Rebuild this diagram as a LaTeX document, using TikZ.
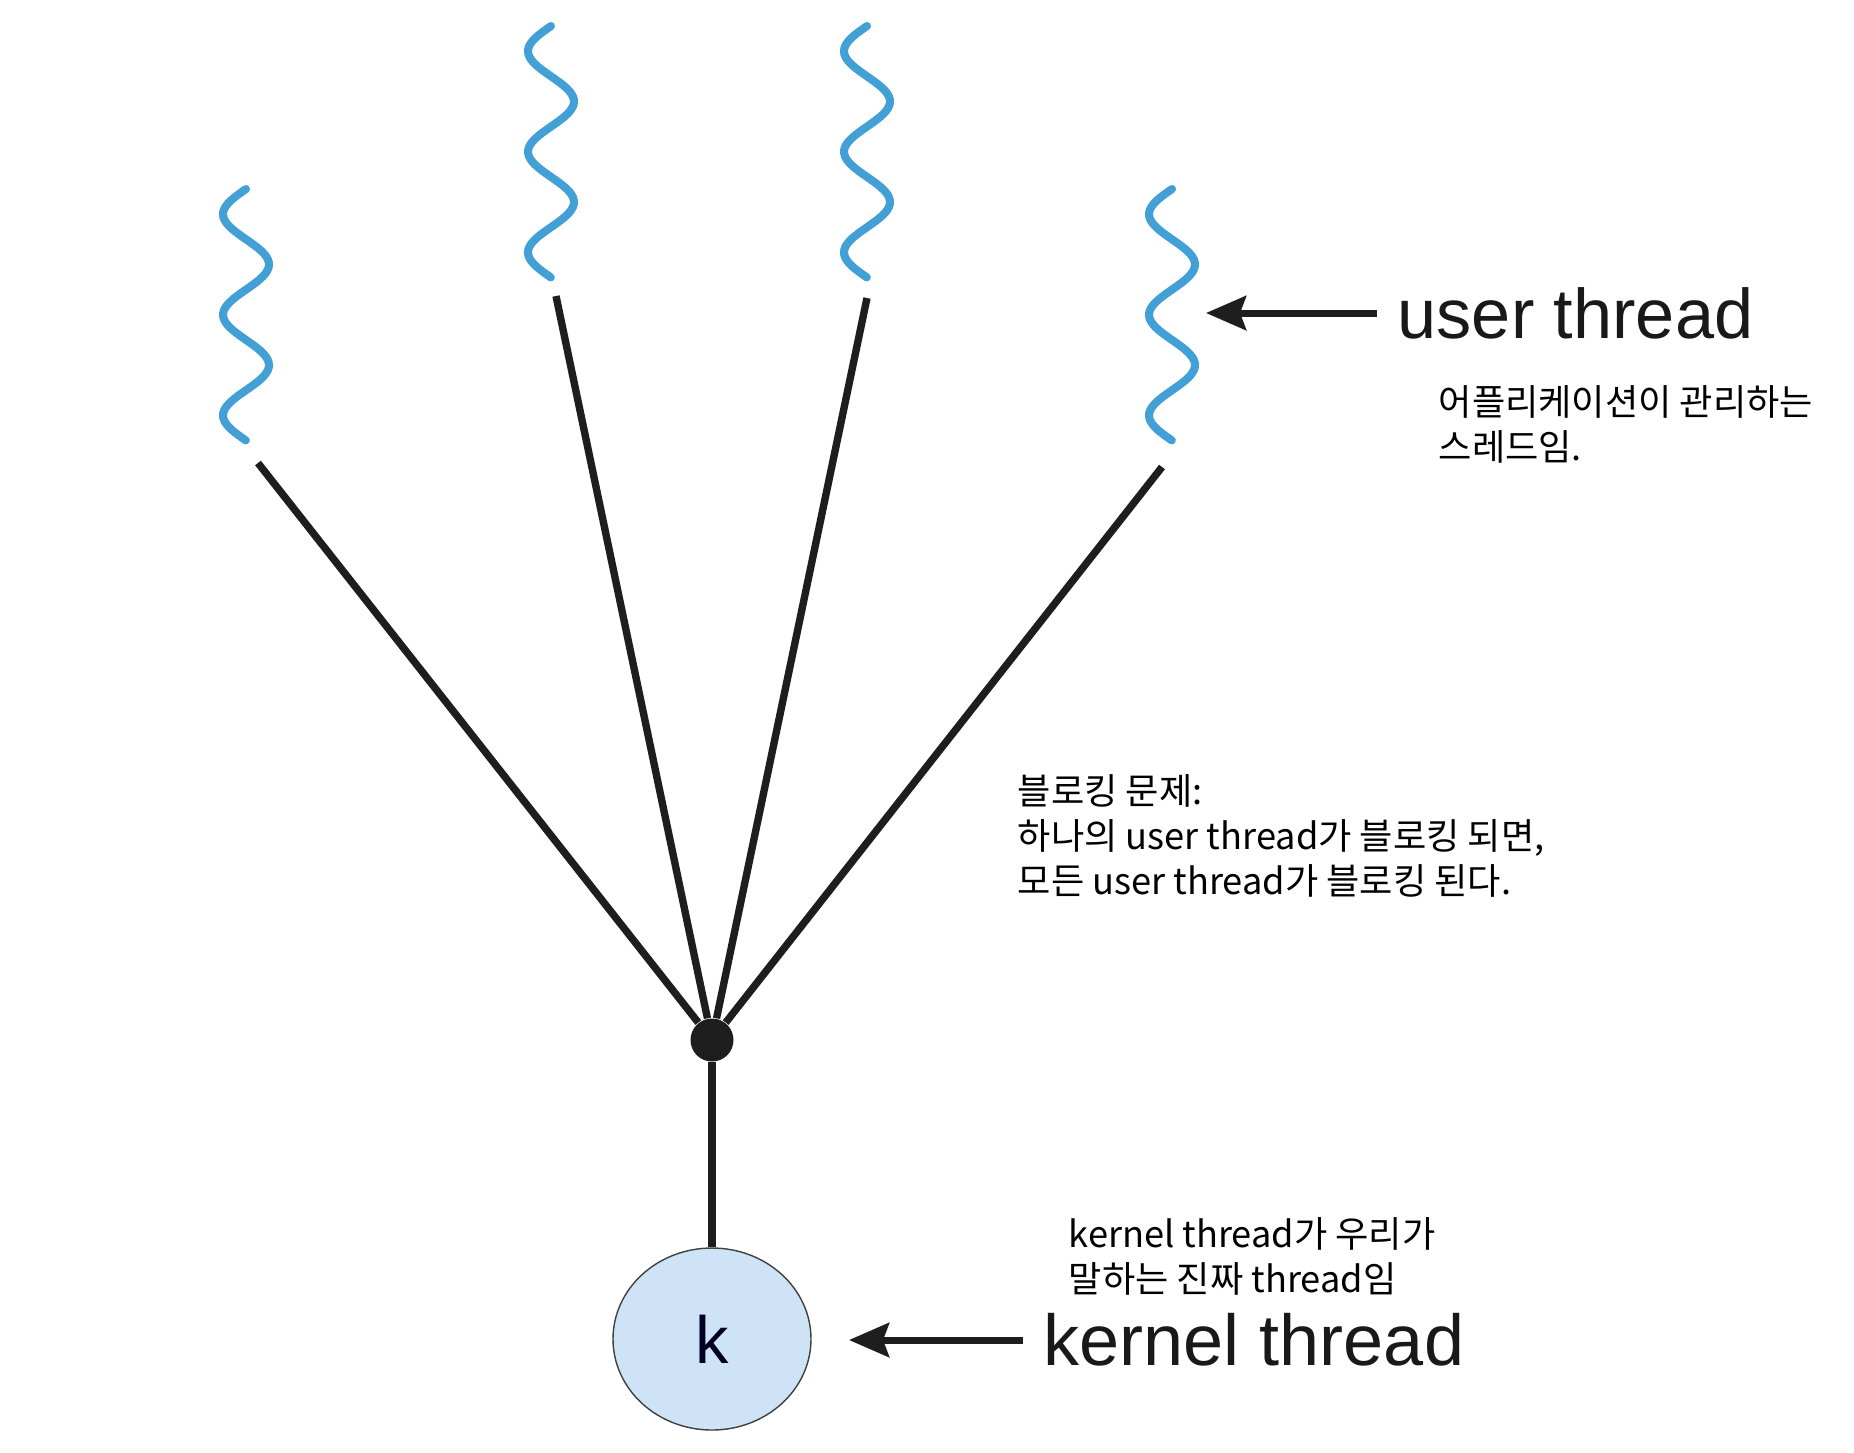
\documentclass[tikz,border=0pt]{standalone}
\usepackage{fontspec}
\setmainfont{Liberation Sans}
\newfontfamily\kor{Noto Sans CJK KR}
\usetikzlibrary{shapes.geometric,arrows.meta}
\definecolor{wavecol}{RGB}{66,160,214}
\definecolor{kfill}{RGB}{206,228,246}
\definecolor{linecol}{RGB}{30,30,30}

\tikzstyle{wave}=[draw=wavecol,line width=2.3pt,line cap=round]
\tikzstyle{spoke}=[draw=linecol,line width=2.1pt]
\tikzstyle{hub}=[circle,fill=linecol,inner sep=0pt,minimum size=4.3mm]
\tikzstyle{kthread}=[ellipse,draw=black!75,fill=kfill,thin,inner sep=0pt,minimum width=19.8mm,minimum height=18.2mm,text=black!85!blue,font=\fontsize{19}{19}\selectfont]
\tikzstyle{tag}=[anchor=west,inner sep=2mm,text=black!90]
\tikzstyle{note}=[anchor=west,align=left,inner sep=0pt,font=\kor\fontsize{10.3}{12.8}\selectfont]
\tikzstyle{pointer}=[-{Stealth[length=4mm,width=3.4mm,inset=0.6mm]},draw=linecol,line width=2pt]

\begin{document}
\begin{tikzpicture}[x=0.1mm,y=-0.1mm]
\useasboundingbox (0,0) rectangle (1854,1452);
% user threads
\foreach \cx/\ty in {246/189, 551/26, 867/26, 1172/189}
  \draw[wave] plot[domain=0:2.5,samples=90,smooth] ({\cx-23*sin(360*\x)},{\ty+100.6*\x});
\coordinate (u1) at (258,463);
\coordinate (u2) at (556,296);
\coordinate (u3) at (867,298);
\coordinate (u4) at (1162,467);
\node[hub]     (hub) at (712,1040) {};
\node[kthread] (k)   at (712,1339) {k};
\path[spoke]
(hub) edge (u1)
      edge (u2)
      edge (u3)
      edge (u4)
      edge (k);
% labels
\coordinate (utip) at (1206,313);
\coordinate (ktip) at (849,1340);
\node[tag,font=\fontsize{20}{20}\selectfont] (ulab) at (1377,313) {user thread};
\node[tag,font=\fontsize{20.5}{20.5}\selectfont] (klab) at (1023,1340) {kernel thread};
\draw[pointer] (ulab) -- (utip);
\draw[pointer] (klab) -- (ktip);
% notes
\node[note] (unote) at (1438,424) {어플리케이션이 관리하는\\스레드임.};
\node[note] (bnote) at (1017,836) {블로킹 문제:\\하나의 user thread가 블로킹 되면,\\모든 user thread가 블로킹 된다.};
\node[note] (knote) at (1068,1256) {kernel thread가 우리가\\말하는 진짜 thread임};
\end{tikzpicture}
\end{document}
